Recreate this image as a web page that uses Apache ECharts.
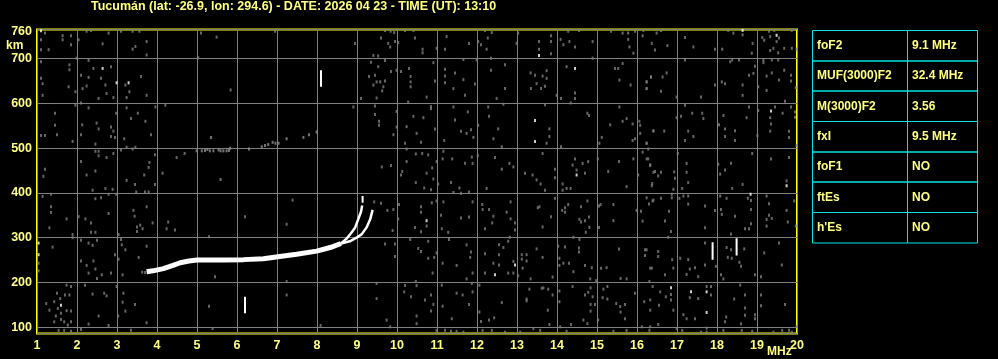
<!DOCTYPE html>
<html><head><meta charset="utf-8">
<script src="https://cdn.jsdelivr.net/npm/echarts@6/dist/echarts.min.js"></script>
<style>html,body{margin:0;padding:0;background:#000;}#c{width:998px;height:359px;}</style>
</head><body><div id="c"></div>
<script>
const titleText = 'Tucumán (lat: -26.9, lon: 294.6) - DATE: 2026 04 23 - TIME (UT): 13:10';
const xTicks = [1,2,3,4,5,6,7,8,9,10,11,12,13,14,15,16,17,18,19,20];
const yTicks = [100,200,300,400,500,600,700,760];
const paramNames = ['foF2','MUF(3000)F2','M(3000)F2','fxI','foF1','ftEs',"h'Es"];
const paramValues = ['9.1 MHz','32.4 MHz','3.56','9.5 MHz','NO','NO','NO'];

// main F-trace (shared part), then O and X branches (MHz, km)
const traceMain = [[3.74,224],[3.9,226],[4.16,231],[4.4,238],[4.58,244],[4.8,248],[5.0,250],[5.3,250],[5.66,250],[6.16,251],[6.66,253],[7.07,258],[7.49,263],[7.99,270],[8.33,278],[8.6,287]];
const traceO = [[8.6,287],[8.74,298],[8.85,310],[8.95,322],[9.03,341],[9.10,358],[9.13,372]];
const traceX = [[8.6,287],[8.82,292],[8.99,300],[9.12,308],[9.24,323],[9.33,341],[9.39,362]];
// second-hop echoes
const secondHop = [[4.99,494],[5.12,494],[5.20,495],[5.26,497],[5.32,494],[5.41,494],[5.54,496],[5.59,494],[5.66,494],[5.74,494],[5.80,495],[5.83,500],[6.30,498],[6.62,503],[6.70,506],[6.78,508],[6.89,513],[6.96,511],[7.04,511],[7.24,521],[7.66,524],[7.80,530],[7.99,536],[5.35,524],[5.59,430]];
// strong vertical echo bars: MHz, bottom km, top km
const echoBars = [[8.10,637,674],[6.20,131,168],[17.89,251,290],[18.49,260,299],[9.14,378,393]];
// strong single echoes
const strongDots = [[1.10,762],[2.64,678],[2.99,646],[3.29,646],[1.04,288],[1.04,262],[1.60,149],[13.55,707],[14.45,678],[13.45,562],[13.45,515],[14.49,440],[12.95,239],[10.74,338],[12.45,217],[18.64,763],[19.49,752],[19.35,583],[19.74,416],[18.84,397],[16.85,188],[17.35,179],[17.74,179],[17.74,133]];
// weak background echoes (noise)
const noiseEchoes = [
[1.10,742],[1.20,757],[1.29,720],[1.10,720],[1.64,751],[1.64,742],[1.85,751],[1.85,731],[2.04,742],[2.24,761],[2.35,763],[2.64,733],[2.79,757],[3.10,761],[3.39,761],[3.56,761],[3.46,727],[3.39,721],[3.74,738],[3.74,708],
[1.10,693],[1.81,686],[1.81,675],[1.99,701],[2.29,696],[2.41,678],[2.85,682],[1.10,656],[1.14,644],[1.79,637],[1.96,626],[2.10,663],[2.29,658],[2.14,633],[2.24,639],[2.60,656],[2.71,641],[2.74,622],[2.91,613],[3.21,641],[3.31,626],[3.24,613],[3.60,660],[3.74,618],[1.14,618],[2.54,611],
[1.96,596],[2.10,601],[2.29,590],[1.45,578],[1.45,551],[1.10,528],[1.20,528],[1.50,530],[1.89,515],[2.13,552],[2.10,530],[2.49,556],[2.54,543],[2.85,547],[2.91,538],[2.95,524],[2.85,526],[2.98,578],[3.24,590],[3.35,566],[3.52,578],[3.71,560],[3.85,530],[3.96,592],[4.21,596],[3.18,521],[2.46,509],
[2.46,493],[2.54,493],[2.54,483],[2.74,479],[2.91,488],[2.10,470],[3.10,496],[3.24,502],[3.39,498],[3.46,502],[3.95,485],[3.81,468],[3.79,457],[3.68,440],[3.45,419],[3.95,419],[4.14,444],[4.49,479],[4.69,488],[1.20,453],[1.16,437],[2.24,440],[2.46,449],[3.24,428],
[1.14,392],[1.35,397],[1.35,369],[1.35,356],[1.74,342],[1.31,322],[1.89,307],[1.89,300],[2.04,347],[2.21,342],[2.35,333],[2.35,312],[2.46,312],[2.39,406],[2.46,387],[2.60,389],[2.71,410],[2.79,397],[2.79,354],[2.89,408],[2.98,397],[3.41,361],[3.44,348],[3.50,324],[3.58,328],[3.64,320],[3.50,314],[3.74,369],[3.89,333],[4.28,335],[4.45,317],[4.24,320],[3.48,402],[3.70,402],[3.79,402],
[1.04,243],[1.04,226],[1.39,279],[2.10,294],[2.29,288],[2.50,294],[2.39,283],[2.10,248],[2.24,238],[2.46,230],[2.29,221],[2.50,209],[2.62,217],[2.41,248],[2.85,221],[2.95,262],[3.04,252],[3.04,307],[3.10,296],[3.12,284],[3.21,273],[3.14,217],[3.54,256],[3.74,281],[3.63,223],[3.70,222],
[1.74,194],[1.85,191],[2.20,194],[1.50,176],[1.58,164],[1.70,172],[1.81,172],[1.23,153],[1.31,138],[1.43,157],[1.52,142],[1.60,131],[1.74,137],[1.85,136],[1.47,125],[1.60,117],[1.68,112],[1.77,105],[1.85,112],[1.43,112],[1.54,93],[1.68,93],[1.85,91],[2.39,174],[2.68,176],[2.74,170],[2.99,191],[3.16,176],[3.14,156],[3.21,136],[3.45,151],[2.54,125],[2.29,107],[2.79,104],[3.03,125],[3.35,93],[3.74,110],[2.10,95],
[5.10,757],[5.49,748],[6.95,761],[5.03,702],[5.84,630],[7.39,384],[6.20,347],[7.24,330],[5.30,302],[5.45,213],[7.24,202],[7.24,172],[5.30,147],[5.39,97],[8.09,104],
[9.70,763],[9.84,761],[9.93,758],[9.60,746],[10.03,736],[9.78,734],[9.95,738],[9.83,726],[10.20,763],[10.41,763],[10.45,746],[10.64,721],[10.64,713],[10.99,723],[11.20,721],[11.24,749],[11.80,734],[12.03,738],[12.10,731],[12.20,763],[12.27,746],[12.24,721],[12.37,758],[8.95,734],
[9.35,692],[9.41,707],[9.53,706],[9.70,696],[9.53,682],[9.45,663],[9.30,660],[9.41,641],[9.49,648],[9.58,648],[9.70,650],[9.63,628],[9.66,637],[9.49,612],[9.10,611],[9.85,671],[9.99,674],[10.10,671],[10.30,678],[10.34,660],[10.34,637],[10.34,648],[10.74,614],[10.91,691],[10.95,650],[11.20,676],[11.20,661],[11.20,646],[11.41,633],[11.45,668],[11.66,698],[11.66,653],[11.70,618],[11.95,643],[11.99,697],[12.35,701],[12.35,674],[12.49,611],
[8.91,592],[9.45,594],[9.45,575],[9.55,560],[9.55,551],[9.91,530],[9.99,582],[9.99,547],[10.24,548],[10.28,603],[10.41,571],[10.49,533],[10.60,513],[10.66,568],[10.85,593],[10.85,588],[10.95,543],[10.20,511],[11.18,517],[11.45,563],[11.41,592],[11.60,538],[11.74,533],[11.85,541],[11.91,524],[11.77,581],[12.03,551],[12.28,592],[12.30,571],[12.41,521],[12.53,543],
[10.24,498],[10.47,487],[10.63,488],[10.78,485],[10.99,470],[10.24,470],[10.13,448],[10.10,440],[9.85,461],[9.62,458],[10.74,444],[10.88,456],[10.91,431],[10.47,423],[10.68,411],[10.85,407],[11.03,420],[11.16,493],[11.14,476],[11.38,476],[11.35,423],[11.56,411],[11.70,466],[11.87,480],[11.89,466],[12.02,483],[12.24,410],[12.45,479],
[9.43,380],[9.60,377],[9.76,361],[9.91,363],[9.89,316],[10.03,342],[10.05,374],[10.60,369],[10.60,357],[10.74,326],[10.45,323],[10.60,313],[10.87,378],[10.99,382],[11.16,380],[11.10,350],[11.12,320],[11.28,312],[11.41,401],[11.60,399],[11.60,344],[11.80,402],[11.80,346],[11.89,380],[12.13,374],[12.14,363],[12.30,363],[12.41,348],[12.38,333],[12.20,320],
[9.70,286],[9.95,286],[9.95,258],[10.33,296],[10.53,276],[10.60,269],[10.78,292],[10.78,254],[10.93,256],[10.89,221],[10.99,266],[11.14,243],[11.30,296],[11.49,238],[11.74,284],[11.83,256],[11.85,268],[11.89,221],[11.74,208],[12.20,264],[12.20,221],[12.41,243],[12.55,262],[12.55,284],[12.55,239],
[9.49,198],[9.49,164],[10.20,193],[10.18,179],[10.47,202],[10.49,193],[10.35,168],[10.70,161],[10.85,172],[10.85,136],[10.91,151],[11.12,194],[11.14,147],[11.37,119],[11.49,176],[11.64,172],[11.80,151],[11.87,198],[11.89,179],[12.06,194],[12.06,134],[12.10,113],[12.30,116],[12.43,121],[9.74,116],[10.49,125],[10.49,108],[9.83,101],[10.99,93],[11.20,93],[11.35,91],[11.49,91],[11.66,89],[12.14,93],[12.37,93],
[13.03,757],[12.99,734],[13.55,738],[13.55,721],[13.85,751],[13.85,738],[13.85,711],[14.09,743],[14.16,731],[14.28,761],[14.31,738],[14.45,726],[14.55,763],[14.89,738],[15.35,761],[15.64,757],[15.78,757],[15.78,743],[15.81,726],[15.91,712],[15.95,761],[16.14,751],[16.16,763],[16.37,734],[16.45,719],
[12.70,686],[12.70,633],[13.34,668],[13.45,663],[13.64,661],[13.74,673],[13.74,656],[13.35,633],[13.49,644],[13.60,633],[13.70,638],[13.99,618],[14.10,611],[14.24,682],[14.45,623],[14.45,611],[14.89,701],[15.45,678],[15.53,678],[15.56,652],[15.64,689],[15.84,641],[16.24,648],[16.24,633],[16.35,659],
[12.66,598],[13.70,597],[13.81,543],[13.81,526],[13.74,511],[14.10,503],[14.34,601],[14.76,578],[14.80,573],[15.12,524],[15.33,552],[15.56,592],[15.64,560],[15.74,566],[15.89,554],[15.89,517],[15.95,521],[16.08,551],[16.08,533],[16.06,560],[16.24,511],[16.41,539],[15.06,511],
[12.62,503],[12.81,466],[12.91,458],[12.62,453],[13.20,444],[13.39,440],[13.49,429],[13.59,420],[13.64,488],[13.70,406],[13.95,453],[13.95,434],[14.14,420],[14.14,406],[14.24,410],[14.34,410],[14.39,462],[14.45,476],[14.49,451],[14.64,466],[14.70,444],[14.78,470],[15.02,476],[15.28,448],[15.55,470],[15.74,414],[15.91,476],[16.03,440],[16.14,491],[16.28,476],[16.33,461],[16.41,446],[16.37,416],
[12.84,380],[12.74,357],[12.84,342],[12.95,333],[12.95,317],[12.82,301],[13.52,367],[13.56,369],[13.85,347],[13.95,388],[13.64,324],[14.13,361],[14.20,367],[14.20,357],[14.28,374],[14.41,301],[14.56,341],[14.60,335],[14.60,369],[14.70,338],[14.76,382],[14.80,346],[14.81,323],[14.72,312],[14.56,296],[15.05,371],[15.09,374],[15.05,323],[15.41,374],[15.41,338],[15.99,361],[16.14,337],[16.24,389],[16.39,382],[16.10,359],
[12.78,292],[12.66,278],[13.12,262],[13.12,252],[13.24,262],[13.24,248],[12.91,247],[13.14,232],[13.03,215],[12.78,221],[12.91,221],[13.34,208],[13.49,275],[13.64,256],[13.89,212],[14.03,281],[14.06,254],[14.06,238],[14.20,279],[14.16,243],[14.30,243],[14.41,224],[14.55,277],[14.55,268],[14.70,238],[14.87,233],[14.83,208],[14.98,204],[15.10,232],[15.24,233],[15.55,275],[15.59,209],[15.74,208],[16.20,273],[16.20,260],[16.37,232],[16.31,202],
[12.62,155],[13.24,163],[13.24,159],[13.31,185],[13.62,187],[13.66,188],[13.78,185],[13.89,172],[13.77,138],[14.06,181],[14.06,157],[14.39,191],[14.70,172],[14.78,178],[14.84,188],[14.89,168],[14.84,151],[14.95,151],[14.84,136],[15.16,185],[15.26,191],[15.14,166],[15.26,163],[15.48,153],[15.58,146],[15.70,151],[15.59,134],[15.70,119],[15.95,176],[16.18,157],[16.33,138],[16.39,191],[14.66,116],[14.76,108],[15.03,116],[14.35,106],[13.81,106],[13.41,97],[13.08,89],[12.70,89],[13.58,93],[14.08,101],[14.24,91],[15.41,91],[15.74,93],[16.12,101],[16.31,93],
[16.60,763],[16.49,757],[16.76,729],[17.20,747],[17.41,726],[17.95,721],[18.13,721],[18.28,763],[18.41,757],[18.64,753],[18.89,734],[18.87,712],[19.13,747],[19.18,741],[19.30,761],[19.33,749],[19.43,763],[19.49,738],[19.55,746],[19.33,718],[19.41,723],[19.53,713],[19.68,723],[19.87,723],[19.99,721],[19.87,763],
[16.24,648],[16.24,633],[16.35,659],[16.60,627],[16.64,659],[16.74,668],[16.99,614],[17.20,697],[17.60,614],[17.95,641],[18.12,648],[18.20,644],[18.33,693],[18.38,697],[18.55,697],[18.64,641],[18.64,618],[18.80,663],[18.91,667],[18.95,683],[19.03,637],[19.16,697],[19.16,691],[19.24,661],[19.24,629],[19.37,697],[19.37,668],[19.53,697],[19.55,652],[19.68,674],[19.70,605],[19.85,663],[19.85,650],[19.97,635],
[16.41,538],[16.68,538],[16.24,511],[16.99,568],[17.10,571],[17.20,596],[17.38,578],[17.28,538],[17.63,578],[17.66,566],[17.41,526],[17.20,517],[18.05,552],[18.16,573],[18.20,543],[18.20,526],[18.45,517],[18.45,539],[18.74,568],[18.80,592],[19.01,528],[19.03,584],[19.33,568],[19.35,554],[19.33,538],[19.45,592],[19.64,578],[19.80,538],[19.80,524],[19.85,592],[19.95,581],[19.95,569],
[16.28,498],[16.24,476],[16.33,463],[16.45,448],[16.53,438],[16.60,446],[16.38,421],[16.93,447],[16.95,433],[16.91,408],[17.02,488],[17.24,466],[17.28,423],[17.24,446],[17.13,410],[18.03,464],[18.08,442],[18.20,451],[18.35,466],[18.38,410],[18.64,419],[18.88,488],[19.35,476],[19.80,479],[19.74,427],[19.99,506],
[16.30,375],[16.41,384],[16.60,388],[16.80,359],[16.70,337],[16.87,389],[16.87,397],[17.06,388],[17.16,393],[17.28,393],[17.28,375],[16.85,314],[16.78,301],[17.70,371],[17.70,322],[17.95,361],[18.08,393],[18.10,363],[18.12,352],[18.24,388],[18.45,348],[18.35,308],[18.70,320],[18.77,388],[18.85,383],[18.85,363],[18.85,331],[18.80,320],[19.24,393],[19.30,376],[19.30,350],[19.24,341],[19.24,326],[19.37,343],[19.74,361],[19.77,335],[19.97,326],[19.93,382],
[16.24,273],[16.53,269],[16.53,258],[16.33,232],[16.70,217],[16.91,232],[16.88,251],[17.08,254],[17.28,251],[17.32,230],[17.45,233],[17.53,213],[17.24,218],[17.70,288],[17.70,239],[17.97,236],[18.10,217],[18.24,278],[18.35,273],[18.27,256],[18.37,254],[18.56,245],[18.68,275],[18.60,236],[18.16,208],[18.95,217],[19.10,213],[19.18,266],[19.62,239],[19.55,288],
[16.33,161],[16.58,179],[16.85,173],[16.85,161],[16.72,168],[16.55,149],[16.91,138],[17.32,166],[17.53,164],[17.85,191],[17.74,191],[17.85,172],[17.45,119],[17.16,128],[17.24,119],[18.23,123],[18.20,112],[18.43,163],[18.58,194],[18.70,172],[18.70,143],[18.70,127],[18.60,108],[18.95,128],[18.95,119],[19.10,172],[19.10,148],[19.70,151],[16.53,106],[16.33,101],[16.99,97],[17.13,93],[17.60,89],[17.74,98],[17.74,89],[18.16,93],[18.62,93],[18.88,91],[19.41,89],[19.63,93],[19.80,93],[19.87,89],[19.99,101]
];

const YEL = '#ffff80';
const chart = echarts.init(document.getElementById('c'), null, {renderer: 'canvas'});
const FONT = '"Liberation Sans", Arial, sans-serif';

const cellTop = 30.5, rowH = 30.33, tX0 = 812.5, tX1 = 907.5, tX2 = 977.5;
const tableEls = [];
paramNames.forEach((n, i) => {
  const y0 = Math.round((cellTop + i * rowH) * 2) / 2;
  const y1 = Math.round((cellTop + (i + 1) * rowH) * 2) / 2;
  tableEls.push({type: 'rect', shape: {x: tX0, y: y0, width: tX1 - tX0, height: y1 - y0}, style: {fill: null, stroke: '#00e5e5', lineWidth: 1}});
  tableEls.push({type: 'rect', shape: {x: tX1, y: y0, width: tX2 - tX1, height: y1 - y0}, style: {fill: null, stroke: '#00e5e5', lineWidth: 1}});
  tableEls.push({type: 'text', x: 817, y: (y0 + y1) / 2, style: {text: n, fill: YEL, font: 'bold 12px ' + FONT, verticalAlign: 'middle'}});
  tableEls.push({type: 'text', x: 912, y: (y0 + y1) / 2, style: {text: paramValues[i], fill: YEL, font: 'bold 12px ' + FONT, verticalAlign: 'middle'}});
});

const barSeries = echoBars.map(b => ({
  type: 'line', data: [[b[0], b[1]], [b[0], b[2]]], showSymbol: false, silent: true, z: 6,
  lineStyle: {color: '#ffffff', width: 2}, animation: false
}));

chart.setOption({
  backgroundColor: '#000',
  animation: false,
  title: {text: titleText, left: 91, top: 0, padding: 0,
    textStyle: {color: YEL, fontSize: 12.5, fontWeight: 'bold', fontFamily: FONT}},
  grid: {left: 37, top: 29.5, width: 760, height: 304, show: true, borderColor: '#ffff00', borderWidth: 2, backgroundColor: '#000'},
  xAxis: {type: 'value', min: 1, max: 20, interval: 1,
    axisLine: {show: false}, axisTick: {show: false},
    splitLine: {show: true, lineStyle: {color: '#808080', width: 1}},
    axisLabel: {customValues: xTicks, color: YEL, fontSize: 12.5, fontWeight: 'bold', fontFamily: FONT, margin: 6}},
  yAxis: {type: 'value', min: 86, max: 765, splitNumber: 7,
    axisLine: {show: false}, axisTick: {show: false},
    splitLine: {show: true, lineStyle: {color: '#808080', width: 1}},
    axisLabel: {customValues: yTicks, color: YEL, fontSize: 12.5, fontWeight: 'bold', fontFamily: FONT, margin: 5}},
  graphic: [
    {type: 'text', x: 6, y: 46, style: {text: 'km', fill: YEL, font: 'bold 12px ' + FONT, verticalAlign: 'middle'}},
    {type: 'text', x: 767, y: 352, style: {text: 'MHz', fill: YEL, font: 'bold 12px ' + FONT, verticalAlign: 'middle'}},
    ...tableEls
  ],
  series: [
    {type: 'scatter', data: noiseEchoes, symbol: 'rect', symbolSize: [2, 3], silent: true, z: 3,
      itemStyle: {color: '#808080'}},
    {type: 'scatter', data: secondHop, symbol: 'rect', symbolSize: [2, 3], silent: true, z: 3,
      itemStyle: {color: '#909090'}},
    {type: 'scatter', data: strongDots, symbol: 'rect', symbolSize: [2, 3], silent: true, z: 4,
      itemStyle: {color: '#ffffff'}},
    {type: 'line', data: traceMain, showSymbol: false, silent: true, z: 5, lineStyle: {color: '#ffffff', width: 5}},
    {type: 'line', data: traceO, showSymbol: false, silent: true, z: 5, lineStyle: {color: '#ffffff', width: 2.5}},
    {type: 'line', data: traceX, showSymbol: false, silent: true, z: 5, lineStyle: {color: '#ffffff', width: 2.5}},
    ...barSeries
  ]
});
</script></body></html>
